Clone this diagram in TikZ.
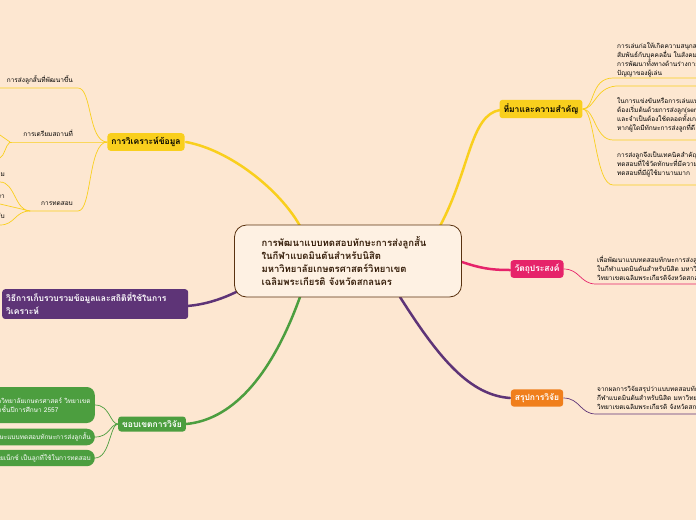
\documentclass[tikz,border=0pt]{standalone}
\usepackage{fontspec}
\setmainfont{Loma}[Script=Thai]
\usetikzlibrary{positioning}
\definecolor{bgpeach}{HTML}{FDE7D1}
\definecolor{topicyellow}{HTML}{F9CF1D}
\definecolor{topicpink}{HTML}{E6236A}
\definecolor{topicorange}{HTML}{F07F1C}
\definecolor{topicpurple}{HTML}{5E3477}
\definecolor{topicgreen}{HTML}{4C9E3F}
\definecolor{centerbrown}{HTML}{5A3210}
\tikzset{
  topic/.style={rounded corners=3pt, font=\fontsize{8.5}{10}\selectfont\bfseries, inner sep=4pt},
  leaf/.style={font=\fontsize{6.5}{9}\selectfont, align=left, inner sep=1pt},
  greenleaf/.style={fill=topicgreen, text=white, rounded corners=8pt, font=\fontsize{6.5}{9}\selectfont, align=left, inner sep=4pt},
  branch/.style={line width=2.5pt, line cap=round},
  twig/.style={line width=0.7pt}
}
\begin{document}
\begin{tikzpicture}[x=1pt,y=-1pt]
  \fill[bgpeach] (0,0) rectangle (696,520);
  \useasboundingbox (0,0) rectangle (696,520);
  \clip (0,0) rectangle (696,520);

  % Branches from the centre
  \coordinate (cTop) at (300,226);
  \coordinate (cTopR) at (440,226);
  \coordinate (cRight) at (462,262);
  \coordinate (cRightB) at (400,297);
  \coordinate (cLeft) at (240,290);
  \coordinate (cLeftB) at (300,297);
  \draw[branch, topicyellow] (cTop) .. controls (280,190) and (230,150) .. (186,142);
  \draw[branch, topicyellow] (cTopR) .. controls (470,170) and (470,115) .. (500,110);
  \draw[branch, topicpink] (cRight) .. controls (480,268) and (490,270) .. (510,270);
  \draw[branch, topicpurple] (cRightB) .. controls (440,360) and (470,395) .. (510,398);
  \draw[branch, topicpurple] (cLeft) .. controls (225,298) and (205,305) .. (186,306);
  \draw[branch, topicgreen] (cLeftB) .. controls (270,380) and (230,420) .. (186,424);

  % Centre
  \node[draw=centerbrown, line width=0.8pt, fill=bgpeach!60!white, rounded corners=12pt,
        minimum width=227pt, minimum height=72pt] (center) at (348,261) {};
  \node[anchor=west, align=left, font=\fontsize{9.5}{13}\selectfont\bfseries,
        text=centerbrown!60!black] (title) at (258,261)
    {การพัฒนาแบบทดสอบทักษะการส่งลูกสั้น\\ในกีฬาแบดมินตันสำหรับนิสิต\\มหาวิทยาลัยเกษตรศาสตร์วิทยาเขต\\เฉลิมพระเกียรติ จังหวัดสกลนคร};

  % Right topics
  \node[topic, fill=topicyellow] (origin) at (541,109) {ที่มาและความสำคัญ};
  \node[topic, fill=topicpink, text=white] (aim) at (537,269) {วัตถุประสงค์};
  \node[topic, fill=topicorange, text=white] (summary) at (537,398) {สรุปการวิจัย};

  \node[leaf, anchor=west] (orig1) at (616,60) {การเล่นก่อให้เกิดความสนุกสนาน\\สัมพันธ์กับบุคคลอื่น ในสังคม\\การพัฒนาทั้งทางด้านร่างกาย\\ปัญญาของผู้เล่น};
  \node[leaf, anchor=west] (orig2) at (616,115) {ในการแข่งขันหรือการเล่นแบดมินตัน\\ต้องเริ่มต้นด้วยการส่งลูก(service)\\และจำเป็นต้องใช้ตลอดทั้งเกม\\หากผู้ใดมีทักษะการส่งลูกที่ดี};
  \node[leaf, anchor=west] (orig3) at (616,164) {การส่งลูกจึงเป็นเทคนิคสำคัญ\\ทดสอบที่ใช้วัดทักษะที่มีความ\\ทดสอบที่มีผู้ใช้มานานมาก};
  \coordinate (o1) at (613,78);
  \coordinate (o2) at (613,140);
  \coordinate (o3) at (613,185);
  \draw[twig, topicyellow] (origin.east) .. controls (595,109) and (590,78) .. (o1) -- (696,78);
  \draw[twig, topicyellow] (origin.east) .. controls (595,109) and (595,88) .. (616,86) -- (696,86);
  \draw[twig, topicyellow] (origin.east) .. controls (595,109) and (595,140) .. (o2) -- (696,140);
  \draw[twig, topicyellow] (origin.east) .. controls (595,109) and (595,185) .. (o3) -- (696,185);

  \node[leaf, anchor=west] (aimtext) at (596,268) {เพื่อพัฒนาแบบทดสอบทักษะการส่งลูกสั้น\\ในกีฬาแบดมินตันสำหรับนิสิต มหาวิทยาลัย\\วิทยาเขตเฉลิมพระเกียรติจังหวัดสกลนคร};
  \coordinate (a1) at (596,284);
  \draw[twig, topicpink] (aim.east) .. controls (580,269) and (580,284) .. (a1) -- (696,284);

  \node[leaf, anchor=west] (sumtext) at (596,398) {จากผลการวิจัยสรุปว่าแบบทดสอบทักษะ\\กีฬาแบดมินตันสำหรับนิสิต มหาวิทยาลัย\\วิทยาเขตเฉลิมพระเกียรติ จังหวัดสกลนคร};
  \coordinate (s1) at (596,414);
  \draw[twig, topicpurple] (summary.east) .. controls (580,398) and (580,414) .. (s1) -- (696,414);

  % Left topics
  \node[topic, fill=topicyellow] (analysis) at (146,142) {การวิเคราะห์ข้อมูล};
  \node[topic, fill=topicpurple, text=white, align=left, anchor=north west,
        text width=178pt, font=\fontsize{8.5}{13}\selectfont\bfseries] (method) at (2,289)
    {วิธีการเก็บรวบรวมข้อมูลและสถิติที่ใช้ในการ\\วิเคราะห์};
  \node[topic, fill=topicgreen, text=white] (scope) at (152,424) {ขอบเขตการวิจัย};

  \node[leaf, anchor=east] (shortserve) at (74,80) {การส่งลูกสั้นที่พัฒนาขึ้น};
  \node[leaf, anchor=east] (venue) at (74,133) {การเตรียมสถานที่};
  \node[leaf, anchor=east] (testing) at (74,204) {การทดสอบ};
  \node[leaf, anchor=east] (t1) at (6,175) {ผู้ทดสอบเตรียม};
  \node[leaf, anchor=east] (t2) at (6,196) {อธิบายวิธีการทดสอบให้นักศึกษา};
  \node[leaf, anchor=east] (t3) at (6,216) {บันทึกผลการทดสอบทีละคนตามลำดับ};
  \draw[twig, topicyellow] (analysis.west) .. controls (88,142) and (92,88) .. (78,88) -- (0,88);
  \draw[twig, topicyellow] (analysis.west) .. controls (95,142) and (80,142) .. (10,142);
  \draw[twig, topicyellow] (analysis.west) .. controls (88,142) and (92,211) .. (78,211) -- (30,211);
  \draw[twig, topicyellow] (10,142) -- (0,135);
  \draw[twig, topicyellow] (10,142) .. controls (5,146) and (5,155) .. (0,158);
  \draw[twig, topicyellow] (30,211) .. controls (15,211) and (15,182) .. (0,182);
  \draw[twig, topicyellow] (30,211) -- (0,204);
  \draw[twig, topicyellow] (30,211) .. controls (15,211) and (15,225) .. (0,225);

  \node[greenleaf, anchor=east, minimum height=36pt, minimum width=110pt] (g1) at (95,405) {มหาวิทยาลัยเกษตรศาสตร์ วิทยาเขต\\นิสิตชั้นปีการศึกษา 2557};
  \node[greenleaf, anchor=east] (g2) at (95,437) {ทักษะแบบทดสอบทักษะการส่งลูกสั้น};
  \node[greenleaf, anchor=east] (g3) at (95,458) {ลูกขนไก่ยี่ห้อโยเน็กซ์ เป็นลูกที่ใช้ในการทดสอบ};
  \draw[twig, topicgreen] (scope.west) .. controls (110,424) and (110,405) .. (g1.east);
  \draw[twig, topicgreen] (scope.west) .. controls (110,424) and (110,437) .. (g2.east);
  \draw[twig, topicgreen] (scope.west) .. controls (110,424) and (110,458) .. (g3.east);
\end{tikzpicture}
\end{document}
